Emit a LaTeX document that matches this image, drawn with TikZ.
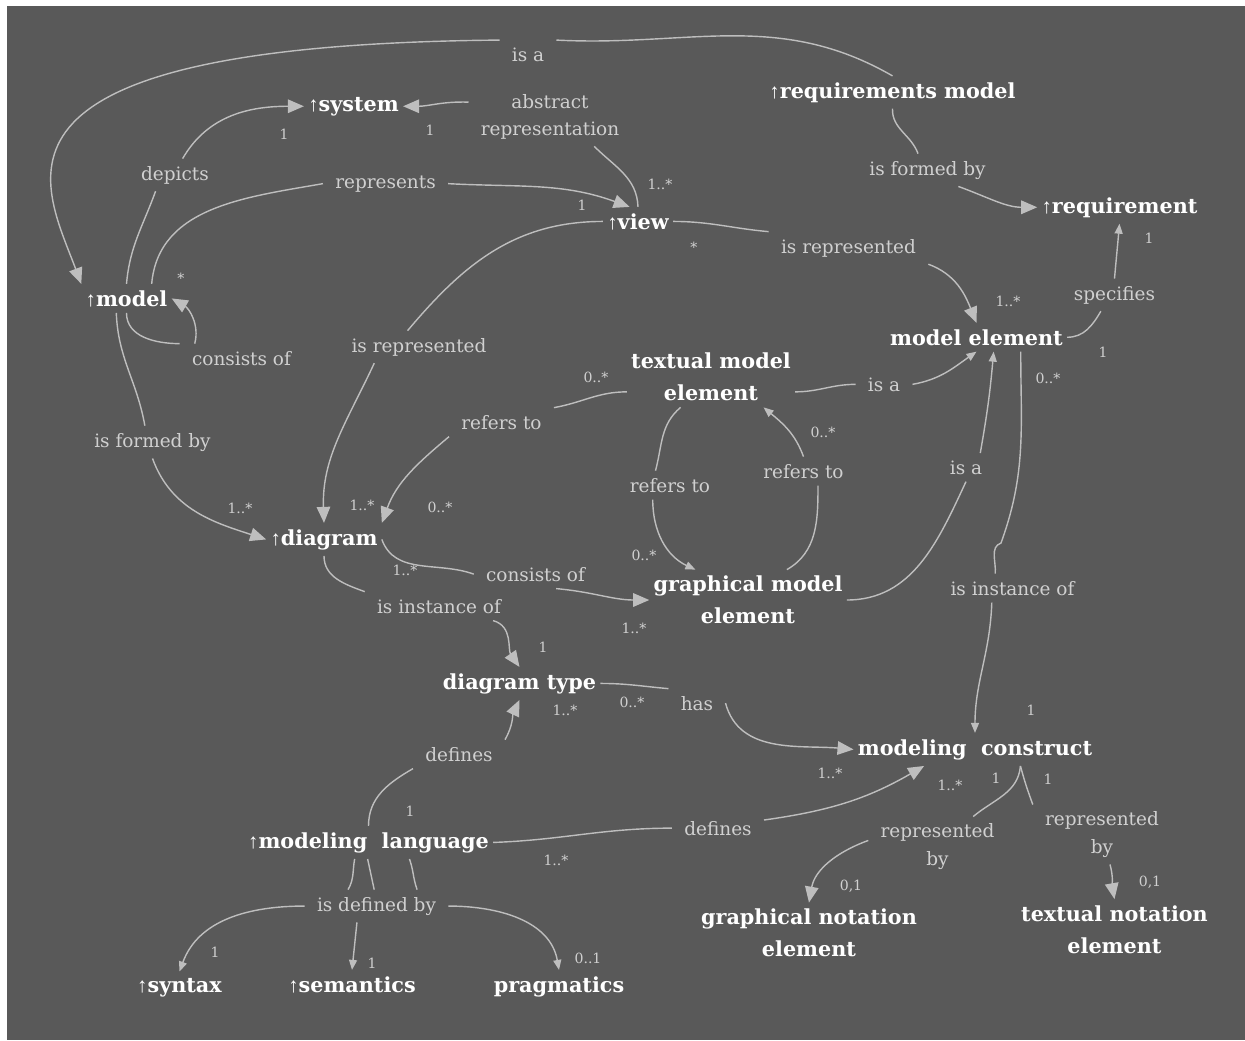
\documentclass[tikz,border=0pt]{standalone}
\usepackage{fontspec}
\setmainfont{DejaVu Serif}
\newfontfamily\arrowfont{Liberation Serif}
\usetikzlibrary{arrows.meta}
\definecolor{canvas}{RGB}{89,89,89}
\definecolor{linegray}{RGB}{190,190,190}
\definecolor{textgray}{RGB}{208,208,208}
\newcommand{\upmark}{{\arrowfont\bfseries ↑}}

\begin{document}
\begin{tikzpicture}[
  concept/.style={text=white, font=\bfseries\fontsize{11.8}{18.2}\selectfont, align=center, inner xsep=0.08cm, inner ysep=0.12cm},
  rel/.style={text=textgray, font=\fontsize{10.5}{15.4}\selectfont, align=center, inner xsep=0.24cm, inner ysep=0.14cm},
  mult/.style={text=textgray, font=\fontsize{8}{9}\selectfont, inner sep=0pt, anchor=base},
  link/.style={draw=linegray, line width=0.8pt},
  bigtip/.style={-{Triangle[length=0.32cm,width=0.27cm]}},
  smalltip/.style={-{Triangle[length=0.20cm,width=0.16cm]}}]
  \useasboundingbox (0,0) rectangle (24.90,-20.80);
  \fill[white] (0,0) rectangle (24.90,-20.80);
  \fill[canvas] (0.14,-0.12) rectangle (24.90,-20.80);

  % concepts
  \node[concept, anchor=base] (sys) at (7.07,-2.22) {\upmark system};
  \node[concept, anchor=base] (reqmod) at (17.85,-1.96) {\upmark requirements model};
  \node[concept, anchor=base] (view) at (12.76,-4.58) {\upmark view};
  \node[concept, anchor=base] (req) at (22.39,-4.26) {\upmark requirement};
  \node[concept, anchor=base] (model) at (2.53,-6.12) {\upmark model};
  \node[concept, anchor=base] (modelel) at (19.53,-6.90) {model element};
  \node[concept] (textel) at (14.22,-7.54) {textual model\\element};
  \node[concept, anchor=base] (diagram) at (6.48,-10.90) {\upmark diagram};
  \node[concept] (graphel) at (14.96,-12.00) {graphical model\\element};
  \node[concept, anchor=base] (dtype) at (10.39,-13.78) {diagram type};
  \node[concept, anchor=base] (construct) at (19.50,-15.10) {modeling\ \ construct};
  \node[concept, anchor=base] (lang) at (7.37,-16.96) {\upmark modeling\ \ language};
  \node[concept] (gnot) at (16.18,-18.66) {graphical notation\\element};
  \node[concept] (tnot) at (22.29,-18.59) {textual notation\\element};
  \node[concept, anchor=base] (syntax) at (3.59,-19.84) {\upmark syntax};
  \node[concept, anchor=base] (semantics) at (7.04,-19.84) {\upmark semantics};
  \node[concept, anchor=base] (prag) at (11.18,-19.84) {pragmatics};

  % relation labels
  \node[rel, anchor=base] (isa1) at (10.56,-1.22) {is a};
  \node[rel] (absrep) at (11.00,-2.33) {abstract\\representation};
  \node[rel, anchor=base] (depicts) at (3.50,-3.60) {depicts};
  \node[rel, anchor=base] (represents) at (7.71,-3.76) {represents};
  \node[rel, anchor=base] (formed1) at (18.55,-3.50) {is formed by};
  \node[rel, anchor=base] (isrep1) at (16.97,-5.06) {is represented};
  \node[rel, anchor=base] (specifies) at (22.29,-6.00) {specifies};
  \node[rel, anchor=base] (consists1) at (4.83,-7.30) {consists of};
  \node[rel, anchor=base] (isrep2) at (8.38,-7.04) {is represented};
  \node[rel, anchor=base] (formed2) at (3.05,-8.94) {is formed by};
  \node[rel, anchor=base] (refers1) at (10.03,-8.58) {refers to};
  \node[rel, anchor=base] (isa2) at (17.68,-7.82) {is a};
  \node[rel, anchor=base] (refers2) at (13.40,-9.84) {refers to};
  \node[rel, anchor=base] (refers3) at (16.07,-9.56) {refers to};
  \node[rel, anchor=base] (isa3) at (19.32,-9.48) {is a};
  \node[rel, anchor=base] (consists2) at (10.71,-11.62) {consists of};
  \node[rel, anchor=base] (inst1) at (8.78,-12.26) {is instance of};
  \node[rel, anchor=base] (inst2) at (20.25,-11.90) {is instance of};
  \node[rel, anchor=base] (has) at (13.94,-14.20) {has};
  \node[rel, anchor=base] (defines1) at (9.18,-15.22) {defines};
  \node[rel, anchor=base] (defines2) at (14.36,-16.70) {defines};
  \node[rel] (repby1) at (18.75,-16.93) {represented\\by};
  \node[rel] (repby2) at (22.04,-16.69) {represented\\by};
  \node[rel, anchor=base] (defby) at (7.53,-18.22) {is defined by};

  % multiplicities
  \node[mult] (m1) at (5.68,-2.78) {1};
  \node[mult] (m2) at (8.60,-2.70) {1};
  \node[mult] (m3) at (13.20,-3.78) {1..*};
  \node[mult] (m4) at (11.64,-4.20) {1};
  \node[mult] (m5) at (13.88,-5.04) {*};
  \node[mult] (m6) at (3.62,-5.66) {*};
  \node[mult] (m7) at (22.98,-4.86) {1};
  \node[mult] (m8) at (20.16,-6.12) {1..*};
  \node[mult] (m9) at (22.06,-7.14) {1};
  \node[mult] (m10) at (20.96,-7.66) {0..*};
  \node[mult] (m11) at (11.92,-7.64) {0..*};
  \node[mult] (m12) at (16.46,-8.74) {0..*};
  \node[mult] (m13) at (4.80,-10.26) {1..*};
  \node[mult] (m14) at (7.24,-10.20) {1..*};
  \node[mult] (m15) at (8.80,-10.24) {0..*};
  \node[mult] (m16) at (8.10,-11.50) {1..*};
  \node[mult] (m17) at (12.88,-11.20) {0..*};
  \node[mult] (m18) at (12.68,-12.66) {1..*};
  \node[mult] (m19) at (10.86,-13.04) {1};
  \node[mult] (m20) at (11.30,-14.30) {1..*};
  \node[mult] (m21) at (12.64,-14.14) {0..*};
  \node[mult] (m22) at (20.62,-14.30) {1};
  \node[mult] (m23) at (16.60,-15.56) {1..*};
  \node[mult] (m24) at (19.00,-15.80) {1..*};
  \node[mult] (m25) at (19.92,-15.66) {1};
  \node[mult] (m26) at (20.96,-15.68) {1};
  \node[mult] (m27) at (17.02,-17.80) {0,1};
  \node[mult] (m28) at (23.00,-17.72) {0,1};
  \node[mult] (m29) at (8.20,-16.32) {1};
  \node[mult] (m30) at (11.12,-17.30) {1..*};
  \node[mult] (m31) at (4.30,-19.14) {1};
  \node[mult] (m32) at (7.44,-19.36) {1};
  \node[mult] (m33) at (11.76,-19.26) {0..1};

  % relations, each broken by its label
  \draw[link] (model.north) to[out=85,in=250] (depicts.220);
  \draw[link,bigtip] (depicts.65) to[out=60,in=180] (sys.west);
  \draw[link] (model.30) to[out=85,in=190] (represents.west);
  \draw[link,bigtip] (represents.east) to[out=-3,in=160] (view.120);
  \draw[link] (model.south) to[out=-90,in=180] (consists1.north west);
  \draw[link,bigtip] ([xshift=0.30cm]consists1.north west) to[out=75,in=-30] (model.east);
  \draw[link] (model.235) to[out=-88,in=100] (formed2.115);
  \draw[link,bigtip] (formed2.south) to[out=-70,in=162] (diagram.west);
  \draw[link] (reqmod.north) to[out=150,in=-3] (isa1.north east);
  \draw[link,bigtip] (isa1.north west) .. controls +(-10.78,-0.10) and +(-0.78,2.08) .. (model.north west);
  \draw[link] (view.north) to[out=92,in=-45] (absrep.-34);
  \draw[link,bigtip] (absrep.170) to[out=178,in=0] (sys.east);
  \draw[link] (view.west) to[out=180,in=50] (isrep2.125);
  \draw[link,bigtip] (isrep2.200) to[out=-115,in=92] (diagram.north);
  \draw[link] (view.east) to[out=0,in=175] (isrep1.north west);
  \draw[link,bigtip] (isrep1.south east) to[out=-20,in=112] (modelel.north);
  \draw[link] (reqmod.south) to[out=-92,in=110] (formed1.120);
  \draw[link,bigtip] (formed1.-28) to[out=-20,in=180] (req.west);
  \draw[link] (modelel.east) to[out=0,in=240] (specifies.230);
  \draw[link,smalltip] (specifies.north) to[out=85,in=-95] (req.south);
  \draw[link] (textel.190) to[out=180,in=10] (refers1.north east);
  \draw[link,bigtip] (refers1.south west) to[out=-140,in=70] (diagram.north east);
  \draw[link] (textel.-10) to[out=0,in=180] (isa2.west);
  \draw[link,smalltip] (isa2.east) to[out=10,in=215] (modelel.south);
  \draw[link] (graphel.east) to[out=0,in=245] (isa3.south);
  \draw[link,smalltip] (isa3.45) to[out=80,in=-95] (modelel.-40);
  \draw[link] (textel.-135) to[out=220,in=75] (refers2.135);
  \draw[link,smalltip] (refers2.-140) to[out=-90,in=155] (graphel.150);
  \draw[link] (graphel.38) to[out=30,in=-90] (refers3.-45);
  \draw[link,smalltip] (refers3.north) to[out=110,in=-40] (textel.-30);
  \draw[link] (diagram.east) to[out=-70,in=160] (consists2.west);
  \draw[link,bigtip] (consists2.-35) to[out=-5,in=180] (graphel.west);
  \draw[link] (diagram.south) to[out=-90,in=160] (inst1.north west);
  \draw[link,bigtip] (inst1.-15) to[out=-15,in=125] (dtype.north);
  \coordinate (kink) at (20.02,-10.86);
  \draw[link] (modelel.-18) to[out=-90,in=70] (kink) to[out=200,in=85] (inst2.140);
  \draw[link,smalltip] (inst2.-145) to[out=-92,in=90] (construct.north);
  \draw[link] (dtype.east) to[out=0,in=175] (has.north west);
  \draw[link,bigtip] (has.east) to[out=-75,in=175] (construct.west);
  \draw[link] (lang.north) to[out=90,in=210] (defines1.south west);
  \draw[link,bigtip] (defines1.north east) to[out=60,in=-115] (dtype.south);
  \draw[link] (lang.east) to[out=2,in=180] (defines2.west);
  \draw[link,bigtip] (defines2.10) to[out=8,in=210] (construct.-162);
  \draw[link] (construct.-20) to[out=-95,in=40] (repby1.40);
  \draw[link] (construct.-20) to[out=-75,in=110] (repby2.north west);
  \draw[link,bigtip] (repby1.175) to[out=200,in=80] (gnot.north);
  \draw[link,bigtip] (repby2.-75) to[out=-75,in=100] (tnot.north);
  \draw[link] (lang.-130) to[out=-100,in=60] (defby.150);
  \draw[link] (lang.-93) -- (defby.98);
  \draw[link] (lang.-22) to[out=-70,in=110] (defby.22);
  \draw[link,smalltip] (defby.west) to[out=180,in=70] (syntax.north);
  \draw[link,smalltip] (defby.-140) -- (semantics.north);
  \draw[link,smalltip] (defby.east) to[out=0,in=100] (prag.north);
\end{tikzpicture}
\end{document}
